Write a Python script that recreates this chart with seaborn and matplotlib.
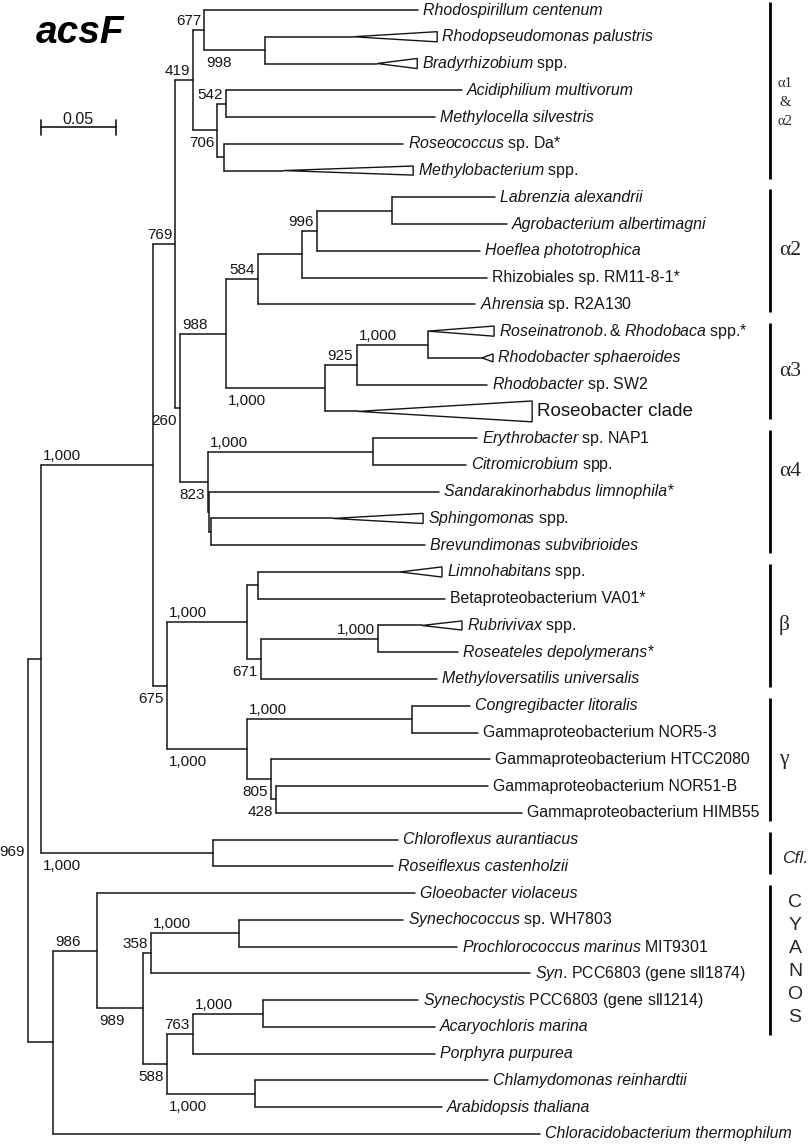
import re

import matplotlib
matplotlib.use("Agg")
import matplotlib.pyplot as plt
import matplotlib.transforms as mtransforms
import pandas as pd
import seaborn as sns
from matplotlib.patches import Polygon

# acsF tree, branch lengths in substitutions/site; leaves t0..t42 from top to bottom
TREE = (
    "(((("
    "((t0:0.1427,(t1:0.0587,t2:0.0747)n998:0.0407)n677:0.0073,"
    "((t3:0.1573,t4:0.1393)n542:0.0060,(t5:0.1193,t6:0.0393)nros:0.0047)n706:0.0160)n419:0.0120,"
    "(("
    "((((t7:0.0687,t8:0.0767)nla:0.0500,t9:0.1087)n996:0.0100,t10:0.1233)nx:0.0293,t11:0.1447)n584:0.0213,"
    "(((t12:0.0000,t13:0.0360)nrr:0.0473,t14:0.0867)n925:0.0213,t15:0.0220)na3:0.0660"
    ")n988:0.0307,"
    "((t16:0.0693,t17:0.0620)nec:0.1100,(t18:0.1533,(t19:0.0813,t20:0.1427)nsph:0.0013)nsand:0.0007)n823:0.0187"
    ")n260:0.0033"
    ")n769:0.0147,"
    "(((t21:0.0947,t22:0.1247)nlv:0.0073,((t23:0.0293,t24:0.0533)nrr2:0.0780,t25:0.1173)n671:0.0093)nbeta:0.0533,"
    "((t26:0.0387,t27:0.0440)ncg:0.1100,(t28:0.1460,(t29:0.1413,t30:0.1640)n428:0.0033)n805:0.0160)ngam:0.0533"
    ")n675:0.0093"
    ")np:0.0747,"
    "(t31:0.1233,t32:0.1200)ncf:0.1147"
    ")na:0.0087,"
    "((t33:0.2120,(((t34:0.1093,t35:0.1453)nsp:0.0587,t36:0.2527)n358:0.0053,"
    "(((t37:0.1033,t38:0.1147)nsa:0.0467,t39:0.1613)n763:0.0173,(t40:0.1553,t41:0.1247)nca:0.0587)n588:0.0160"
    ")n989:0.0307)ncy:0.0293,"
    "t42:0.3247)ncyr:0.0167"
    ")nroot;"
)

# _..._ marks italic text
TIP_LABELS = [
    "_Rhodospirillum centenum_",
    "_Rhodopseudomonas palustris_",
    "_Bradyrhizobium_ spp.",
    "_Acidiphilium multivorum_",
    "_Methylocella silvestris_",
    "_Roseococcus_ sp. Da*",
    "_Methylobacterium_ spp.",
    "_Labrenzia alexandrii_",
    "_Agrobacterium albertimagni_",
    "_Hoeflea phototrophica_",
    "Rhizobiales sp. RM11-8-1*",
    "_Ahrensia_ sp. R2A130",
    "_Roseinatronob.& Rhodobaca_ spp.*",
    "_Rhodobacter sphaeroides_",
    "_Rhodobacter_ sp. SW2",
    "Roseobacter clade",
    "_Erythrobacter_ sp. NAP1",
    "_Citromicrobium_ spp.",
    "_Sandarakinorhabdus limnophila*_",
    "_Sphingomonas_ spp.",
    "_Brevundimonas subvibrioides_",
    "_Limnohabitans_ spp.",
    "Betaproteobacterium VA01*",
    "_Rubrivivax_ spp.",
    "_Roseateles depolymerans*_",
    "_Methyloversatilis universalis_",
    "_Congregibacter litoralis_",
    "Gammaproteobacterium NOR5-3",
    "Gammaproteobacterium HTCC2080",
    "Gammaproteobacterium NOR51-B",
    "Gammaproteobacterium HIMB55",
    "_Chloroflexus aurantiacus_",
    "_Roseiflexus castenholzii_",
    "_Gloeobacter violaceus_",
    "_Synechococcus_ sp. WH7803",
    "_Prochlorococcus marinus_ MIT9301",
    "_Syn_. PCC6803 (gene sll1874)",
    "_Synechocystis_ PCC6803 (gene sll1214)",
    "_Acaryochloris marina_",
    "_Porphyra purpurea_",
    "_Chlamydomonas reinhardtii_",
    "_Arabidopsis thaliana_",
    "_Chloracidobacterium thermophilum_",
]

# collapsed clades: leaf -> (clade depth, half height in leaf rows)
COLLAPSED = {
    1: (0.0560, 0.19), 2: (0.0267, 0.19), 6: (0.0867, 0.17),
    12: (0.0440, 0.19), 13: (0.0073, 0.15), 15: (0.1160, 0.39),
    19: (0.0600, 0.19), 21: (0.0280, 0.19), 23: (0.0267, 0.17),
}

# bootstrap support (of 1,000)
SUPPORT = {
    "nroot": 969, "np": 1000, "ncf": 1000, "n769": 769, "n419": 419,
    "n677": 677, "n998": 998, "n706": 706, "n542": 542, "n260": 260,
    "n988": 988, "n584": 584, "n996": 996, "na3": 1000, "n925": 925,
    "nrr": 1000, "n823": 823, "nec": 1000, "n675": 675, "nbeta": 1000,
    "n671": 671, "nrr2": 1000, "ngam": 1000, "ncg": 1000, "n805": 805,
    "n428": 428, "ncy": 986, "n989": 989, "n358": 358, "nsp": 1000,
    "n588": 588, "n763": 763, "nsa": 1000, "nca": 1000,
}

GROUP_NAMES = ["α1&α2", "α2", "α3", "α4", "β", "γ", "Cfl.", "CYANOS"]
GROUP_FIRST = [0, 7, 12, 16, 21, 26, 31, 33]
GROUP_LAST = [6, 11, 15, 20, 25, 30, 32, 38]

SCALE_LEN = 0.05

# where each support value sits: L = left of node, P = right of parent; a/b = above/below
LABEL_SIDE = {
    "nroot": "Lc", "np": "Pa", "ncf": "Pb", "n769": "La", "n419": "La",
    "n677": "La", "n998": "Pb", "n706": "Lb", "n542": "La", "n260": "Lb",
    "n988": "Pa", "n584": "La", "n996": "La", "na3": "Pb", "n925": "Pa",
    "nrr": "Pa", "n823": "Lb", "nec": "Pa", "n675": "Lb", "nbeta": "Pa",
    "n671": "Lb", "nrr2": "La", "ngam": "Pb", "ncg": "Pa", "n805": "Lb",
    "n428": "Lb", "ncy": "Pa", "n989": "Pb", "n358": "La", "nsp": "Pa",
    "n588": "Lb", "n763": "La", "nsa": "Pa", "nca": "Pb",
}

W, H = 812, 1145
PX_PER_UNIT = 1500.0
ROOT_PX = 28
ROW_PX = 26.76
TOP_PX = 10
INK = "#151515"


def parse_newick(s):
    pos = 0

    def node():
        nonlocal pos
        children = []
        if s[pos] == "(":
            pos += 1
            children.append(node())
            while s[pos] == ",":
                pos += 1
                children.append(node())
            pos += 1
        m = re.match(r"(\w*)(?::([\d.]+))?", s[pos:])
        pos += m.end()
        return {"name": m.group(1), "length": float(m.group(2) or 0), "children": children}

    return node()


def layout(node, x0=0.0, parent=None):
    node["x"] = x0 + node["length"]
    node["parent"] = parent
    for c in node["children"]:
        layout(c, node["x"], node)
    if node["children"]:
        node["y"] = (node["children"][0]["y"] + node["children"][-1]["y"]) / 2
    else:
        node["y"] = int(node["name"][1:])


def walk(node):
    yield node
    for c in node["children"]:
        yield from walk(c)


def rich(label):
    parts = re.split(r"_(.*?)_", label)
    if len(parts) == 1:
        return label, "normal"
    if len(parts) == 3 and parts[0] == "" and parts[2] == "":
        return parts[1], "italic"
    out = ""
    for i, p in enumerate(parts):
        if i % 2:
            out += r"$\mathit{" + p.replace(" ", r"\ ") + "}$"
        else:
            out += p
    return out, "normal"


root = parse_newick(TREE)
layout(root)
nodes = list(walk(root))

segs = []
for n in nodes:
    if n["parent"] is not None and n["x"] > n["parent"]["x"]:
        segs.append((n["parent"]["x"], n["y"]))
        segs.append((n["x"], n["y"]))
    if n["children"]:
        segs.append((n["x"], n["children"][0]["y"]))
        segs.append((n["x"], n["children"][-1]["y"]))
seg_df = pd.DataFrame(segs, columns=["x", "y"])
seg_df["seg"] = seg_df.index // 2

sns.set_theme(style="white")
plt.rcParams["font.family"] = ["Liberation Sans", "DejaVu Sans"]
plt.rcParams["mathtext.fontset"] = "custom"
plt.rcParams["mathtext.it"] = "Liberation Sans:italic"
plt.rcParams["mathtext.rm"] = "Liberation Sans"

fig = plt.figure(figsize=(W / 100, H / 100), dpi=100)
ax = fig.add_axes([0, 0, 1, 1])
sns.lineplot(data=seg_df, x="x", y="y", units="seg", estimator=None, sort=False,
             color=INK, lw=1.1, ax=ax, legend=False)

ax.set_xlim(-ROOT_PX / PX_PER_UNIT, (W - ROOT_PX) / PX_PER_UNIT)
ax.set_ylim((H - TOP_PX) / ROW_PX, -TOP_PX / ROW_PX)
ax.axis("off")

# tips
for n in nodes:
    if n["children"]:
        continue
    i = n["y"]
    x_end = n["x"]
    if i in COLLAPSED:
        depth, half = COLLAPSED[i]
        x_end = n["x"] + depth
        ax.add_patch(Polygon([(n["x"], i), (x_end, i - half), (x_end, i + half)],
                             closed=True, facecolor="white", edgecolor=INK, lw=1.0))
    text, style = rich(TIP_LABELS[i])
    size = 13.5 if TIP_LABELS[i] == "Roseobacter clade" else 11.4
    ax.annotate(text, (x_end, i), xytext=(5, 0), textcoords="offset pixels",
                ha="left", va="center", fontsize=size, style=style, color=INK)

# support values
offsets = {"La": (-3, 9, "right"), "Lb": (-3, -13, "right"), "Lc": (-3, -1, "right"),
           "Pa": (2, 9, "left"), "Pb": (2, -13, "left")}
for n in nodes:
    if n["name"] not in SUPPORT:
        continue
    dx, dy, ha = offsets[LABEL_SIDE[n["name"]]]
    x = n["x"] if LABEL_SIDE[n["name"]][0] == "L" else n["parent"]["x"]
    ax.annotate(f"{SUPPORT[n['name']]:,}", (x, n["y"]), xytext=(dx, dy),
                textcoords="offset pixels", ha=ha, va="center", fontsize=11, color=INK)

# scale bar
sx0 = (40.7 - ROOT_PX) / PX_PER_UNIT
sy = (127 - TOP_PX) / ROW_PX
tick = 7.5 / ROW_PX
ax.plot([sx0, sx0 + SCALE_LEN], [sy, sy], color=INK, lw=1.2)
ax.plot([sx0, sx0], [sy - tick, sy + tick], color=INK, lw=1.2)
ax.plot([sx0 + SCALE_LEN, sx0 + SCALE_LEN], [sy - tick, sy + tick], color=INK, lw=1.2)
ax.annotate(f"{SCALE_LEN}", (sx0 + SCALE_LEN / 2, sy), xytext=(0, 3), textcoords="offset pixels",
            ha="center", va="baseline", fontsize=11.5, color=INK)

fig.text(36 / W, 1 - 43 / H, "acsF", fontsize=28, weight="bold", style="italic",
         va="baseline", ha="left", color="black")

# group bars and labels
trans = mtransforms.blended_transform_factory(ax.transAxes, ax.transData)
bar_x = 770 / W
row = 1 / ROW_PX
for name, first, last in zip(GROUP_NAMES, GROUP_FIRST, GROUP_LAST):
    ax.plot([bar_x, bar_x], [first - 0.3, last + 0.3], transform=trans,
            color="black", lw=2.0, solid_capstyle="butt")
    mid = (first + last) / 2
    if name == "α1&α2":
        for k, part in enumerate(["α1", "&", "α2"]):
            ax.text(785 / W, mid + 0.45 + (k - 1) * 19 * row, part, transform=trans,
                    ha="center", va="center", fontsize=10.5, family="Liberation Serif")
    elif name == "Cfl.":
        ax.text(782 / W, mid + 0.2, name, transform=trans, ha="left", va="center",
                fontsize=12.5, style="italic")
    elif name == "CYANOS":
        for k, ch in enumerate(name):
            ax.text(795 / W, mid + (k - 2.5) * 23 * row, ch, transform=trans,
                    ha="center", va="center", fontsize=14)
    else:
        shift = -0.75 if name == "α4" else 0.0
        ax.text(779 / W, mid + shift, name, transform=trans, ha="left", va="center",
                fontsize=15.5, family="Liberation Serif")

fig.savefig("out.png", dpi=100, facecolor="white")
